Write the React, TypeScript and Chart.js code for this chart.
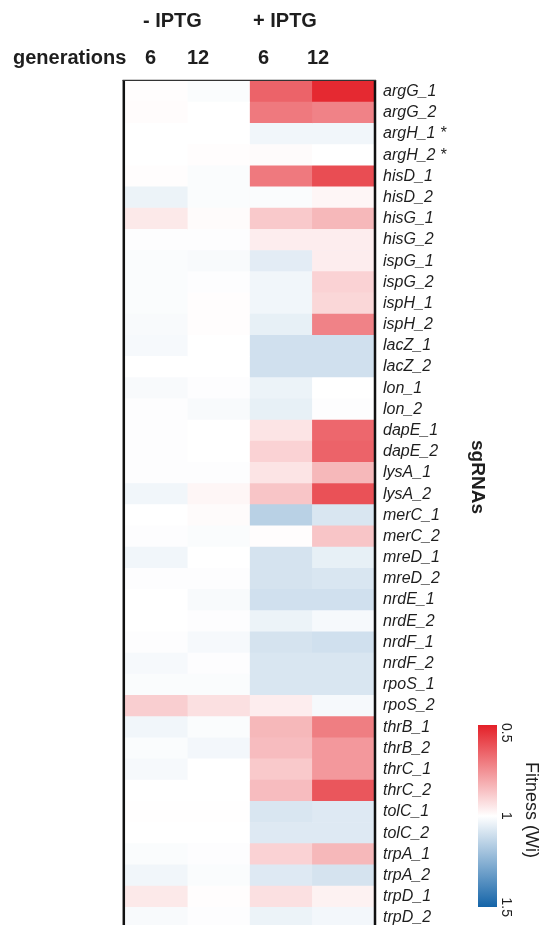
import React, { useEffect, useRef } from "react";
import { Chart, registerables } from "chart.js";

Chart.register(...registerables);

const sgRNAs = [
  "argG_1", "argG_2", "argH_1 *", "argH_2 *", "hisD_1", "hisD_2", "hisG_1", "hisG_2",
  "ispG_1", "ispG_2", "ispH_1", "ispH_2", "lacZ_1", "lacZ_2", "lon_1", "lon_2",
  "dapE_1", "dapE_2", "lysA_1", "lysA_2", "merC_1", "merC_2", "mreD_1", "mreD_2",
  "nrdE_1", "nrdE_2", "nrdF_1", "nrdF_2", "rpoS_1", "rpoS_2", "thrB_1", "thrB_2",
  "thrC_1", "thrC_2", "tolC_1", "tolC_2", "trpA_1", "trpA_2", "trpD_1", "trpD_2",
];

const conditions = ["- IPTG 6", "- IPTG 12", "+ IPTG 6", "+ IPTG 12"];
const groupLabels = ["- IPTG", "+ IPTG"];
const generationLabels = ["6", "12", "6", "12"];

// Fitness (Wi) per sgRNA, one array per condition column
const minusIPTG6 = [
  0.995, 0.993, 1.0, 1.0, 0.995, 1.04, 0.95, 1.005, 1.01, 1.01,
  1.01, 1.015, 1.02, 1.0, 1.015, 1.005, 1.005, 1.005, 1.005, 1.03,
  1.0, 1.005, 1.03, 1.005, 1.0, 1.0, 1.005, 1.02, 1.01, 0.89,
  1.03, 1.01, 1.02, 1.0, 0.997, 1.0, 1.01, 1.03, 0.95, 1.015,
];
const minusIPTG12 = [
  1.01, 1.0, 1.0, 0.995, 1.01, 1.01, 0.99, 1.005, 1.015, 1.005,
  0.995, 0.995, 1.0, 1.0, 1.005, 1.015, 1.0, 1.0, 1.005, 0.98,
  0.99, 1.01, 1.0, 1.005, 1.015, 1.005, 1.02, 1.005, 1.01, 0.93,
  1.01, 1.025, 1.0, 1.0, 0.997, 1.0, 1.005, 1.01, 0.995, 1.005,
];
const plusIPTG6 = [
  0.65, 0.7, 1.03, 0.99, 0.7, 1.01, 0.88, 0.96, 1.06, 1.03,
  1.03, 1.05, 1.1, 1.1, 1.04, 1.05, 0.94, 0.9, 0.94, 0.87,
  1.15, 0.995, 1.09, 1.09, 1.1, 1.04, 1.09, 1.08, 1.08, 0.96,
  0.84, 0.85, 0.88, 0.85, 1.08, 1.07, 0.9, 1.07, 0.93, 1.04,
];
const plusIPTG12 = [
  0.52, 0.72, 1.03, 1.0, 0.6, 0.98, 0.84, 0.96, 0.96, 0.9,
  0.91, 0.72, 1.1, 1.1, 1.0, 1.005, 0.66, 0.65, 0.84, 0.61,
  1.08, 0.87, 1.05, 1.08, 1.1, 1.02, 1.1, 1.08, 1.08, 1.02,
  0.71, 0.77, 0.77, 0.62, 1.07, 1.07, 0.84, 1.09, 0.97, 1.025,
];

const columns = [minusIPTG6, minusIPTG12, plusIPTG6, plusIPTG12];
const colorbarTicks = ["0.5", "1", "1.5"];

const RED = [228, 32, 40];
const BLUE = [20, 100, 168];

function fitnessColor(v: number): string {
  let t = (v - 1) / 0.5;
  if (t < -1) t = -1;
  if (t > 1) t = 1;
  const target = t < 0 ? RED : BLUE;
  const a = Math.abs(t);
  const c = target.map((ch) => Math.round(255 + (ch - 255) * a));
  return `rgb(${c[0]},${c[1]},${c[2]})`;
}

const CANVAS_H = 947;

const decorPlugin = {
  id: "decor",
  afterDraw(chart: any) {
    const ctx = chart.ctx as CanvasRenderingContext2D;
    const area = chart.chartArea;
    ctx.save();
    // frame
    ctx.strokeStyle = "#111";
    ctx.lineWidth = 2.5;
    ctx.beginPath();
    ctx.moveTo(area.left - 1.2, area.top - 1);
    ctx.lineTo(area.left - 1.2, chart.height);
    ctx.moveTo(area.right + 1, area.top - 1);
    ctx.lineTo(area.right + 1, chart.height);
    ctx.stroke();
    ctx.lineWidth = 1.2;
    ctx.strokeStyle = "#333";
    ctx.beginPath();
    ctx.moveTo(area.left - 2.4, area.top - 0.6);
    ctx.lineTo(area.right + 2, area.top - 0.6);
    ctx.stroke();

    // headers
    ctx.fillStyle = "#1e1e1e";
    ctx.font = "bold 20px 'Liberation Sans', Arial, sans-serif";
    ctx.textBaseline = "alphabetic";
    ctx.textAlign = "left";
    ctx.fillText(groupLabels[0], 143, 27);
    ctx.fillText(groupLabels[1], 253, 27);
    ctx.fillText("generations", 13, 64);
    const genX = [145, 187, 258, 307];
    generationLabels.forEach((g, i) => ctx.fillText(g, genX[i], 64));

    // sgRNAs axis title
    ctx.save();
    ctx.translate(472, 477);
    ctx.rotate(Math.PI / 2);
    ctx.textAlign = "center";
    ctx.font = "bold 19px 'Liberation Sans', Arial, sans-serif";
    ctx.fillText("sgRNAs", 0, 0);
    ctx.restore();

    // colorbar
    const cbX = 478, cbW = 19, cbTop = 725, cbBottom = 907;
    const grad = ctx.createLinearGradient(0, cbTop, 0, cbBottom);
    grad.addColorStop(0, fitnessColor(0.5));
    grad.addColorStop(0.25, fitnessColor(0.75));
    grad.addColorStop(0.5, fitnessColor(1));
    grad.addColorStop(0.75, fitnessColor(1.25));
    grad.addColorStop(1, fitnessColor(1.5));
    ctx.fillStyle = grad;
    ctx.fillRect(cbX, cbTop, cbW, cbBottom - cbTop);

    ctx.fillStyle = "#1e1e1e";
    ctx.font = "14px 'Liberation Sans', Arial, sans-serif";
    const tickY = [723, (cbTop + cbBottom) / 2, 917];
    const aligns: CanvasTextAlign[] = ["left", "center", "right"];
    colorbarTicks.forEach((t, i) => {
      ctx.save();
      ctx.translate(502, tickY[i]);
      ctx.rotate(Math.PI / 2);
      ctx.textAlign = aligns[i];
      ctx.fillText(t, 0, 0);
      ctx.restore();
    });

    ctx.save();
    ctx.translate(526, 810);
    ctx.rotate(Math.PI / 2);
    ctx.textAlign = "center";
    ctx.font = "18px 'Liberation Sans', Arial, sans-serif";
    ctx.fillText("Fitness (Wi)", 0, 0);
    ctx.restore();

    ctx.restore();
  },
};

export default function App() {
  const canvasRef = useRef<HTMLCanvasElement | null>(null);

  useEffect(() => {
    const canvas = canvasRef.current;
    if (!canvas) return;
    const datasets = columns.map((col, ci) => ({
      label: conditions[ci],
      data: col.map((v, ri) => ({ x: [ci, ci + 1], y: sgRNAs[ri], v })),
      backgroundColor: col.map((v) => fitnessColor(v)),
      borderWidth: 0,
      grouped: false,
      barPercentage: 1,
      categoryPercentage: 1,
    }));
    const chart = new Chart(canvas, {
      type: "bar",
      data: { labels: sgRNAs, datasets: datasets as any },
      options: {
        indexAxis: "y",
        animation: false,
        responsive: false,
        maintainAspectRatio: false,
        devicePixelRatio: 1,
        layout: { padding: { left: 125, top: 81, right: 0, bottom: 3 } },
        plugins: { legend: { display: false }, tooltip: { enabled: false } },
        scales: {
          x: { type: "linear", min: 0, max: 4, display: false },
          y: {
            type: "category",
            labels: sgRNAs,
            position: "right",
            grid: { display: false, drawTicks: false },
            border: { display: false },
            ticks: {
              autoSkip: false,
              padding: 9,
              color: "#1e1e1e",
              font: { family: "'Liberation Sans', Arial, sans-serif", size: 16, style: "italic" },
            },
            afterFit: (s: any) => {
              s.width = 175;
            },
          },
        },
      } as any,
      plugins: [decorPlugin],
    });
    return () => chart.destroy();
  }, []);

  return (
    <div
      style={{
        position: "fixed",
        left: 0,
        top: 0,
        width: 549,
        height: 925,
        overflow: "hidden",
        background: "#fff",
      }}
    >
      <canvas
        ref={canvasRef}
        width={549}
        height={CANVAS_H}
        style={{ display: "block", width: 549, height: CANVAS_H }}
      />
    </div>
  );
}
